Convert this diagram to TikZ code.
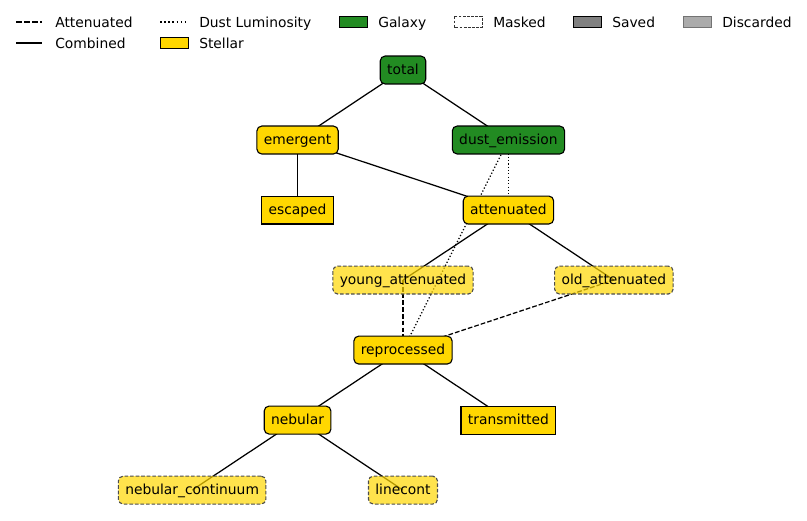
\documentclass[tikz,border=0pt]{standalone}
\usepackage{fontspec}
\setmainfont{DejaVu Sans}
\usetikzlibrary{positioning, backgrounds}
\definecolor{gold}{HTML}{FFD700}
\definecolor{forestgreen}{HTML}{228B22}

\begin{document}
\begin{tikzpicture}[x=0.7227pt, y=-0.7227pt, node distance=50.6pt and 76.2pt, on grid,
    every node/.style={font=\fontsize{10}{12}\selectfont},
    comb/.style={line width=0.9pt},
    att/.style={line width=0.9pt, dash pattern=on 3.4pt off 1.5pt},
    dust/.style={line width=0.9pt, dash pattern=on 0.9pt off 1.5pt},
    lg/.style={anchor=base west, inner sep=0}]
  \tikzstyle{discarded}=[draw, line width=0.8pt, fill=gold, inner xsep=5pt, minimum height=20.2pt,
                         text height=7.6pt, text depth=1.8pt]
  \tikzstyle{saved}=[discarded, rounded corners=3.5pt]
  \tikzstyle{galaxy}=[saved, fill=forestgreen]
  \tikzstyle{masked}=[saved, fill opacity=0.7, text opacity=1, draw=black!70,
                      dash pattern=on 2.6pt off 1.4pt]
  \useasboundingbox (0,0) rectangle (807,521);

  % Legend
  \draw[att, line width=1.1pt, dash pattern=on 4pt off 1.8pt] (16,22) -- (42,22);
  \node[lg] (lgAtt) at (55,27.5) {Attenuated};
  \draw[comb, line width=1.1pt] (16,43) -- (42,43);
  \node[lg] (lgComb) at (55,48.5) {Combined};
  \draw[dust, line width=1.1pt, dash pattern=on 1.1pt off 1.9pt] (160,22) -- (188,22);
  \node[lg] (lgDust) at (199,27.5) {Dust Luminosity};
  \draw[line width=0.7pt, fill=gold] (160,37.5) rectangle (188,48.5);
  \node[lg] (lgStel) at (199,48.5) {Stellar};
  \draw[line width=0.7pt, fill=forestgreen] (339,16.5) rectangle (367,27.5);
  \node[lg] (lgGal) at (378,27.5) {Galaxy};
  \draw[line width=0.7pt, draw=black!80, dash pattern=on 2pt off 1pt] (454,16.5) rectangle (482,27.5);
  \node[lg] (lgMask) at (493,27.5) {Masked};
  \draw[line width=0.7pt, fill=gray] (573,16.5) rectangle (601,27.5);
  \node[lg] (lgSave) at (612,27.5) {Saved};
  \draw[line width=0.7pt, draw=black!55, fill=black!33] (683,16.5) rectangle (711,27.5);
  \node[lg] (lgDisc) at (722,27.5) {Discarded};

  % Nodes
  \node[galaxy] (total) at (403,70) {total};
  \node[saved] (emergent) [below left=of total] {emergent};
  \node[galaxy] (dustem) [below right=of total] {dust\_emission};
  \node[discarded] (escaped) [below=of emergent] {escaped};
  \node[saved] (attenuated) [below=of dustem] {attenuated};
  \node[masked] (youngatt) [below left=of attenuated] {young\_attenuated};
  \node[masked] (oldatt) [below right=of attenuated] {old\_attenuated};
  \node[saved] (reprocessed) [below=of youngatt] {reprocessed};
  \node[saved] (nebular) [below left=of reprocessed] {nebular};
  \node[discarded] (transmitted) [below right=of reprocessed] {transmitted};
  \node[masked] (nebcont) [below left=of nebular] {nebular\_continuum};
  \node[masked] (linecont) [below right=of nebular] {linecont};

  % Edges
  \begin{pgfonlayer}{background}
    \draw[comb] (total.center) -- (emergent.center);
    \draw[comb] (total.center) -- (dustem.center);
    \draw[comb] (emergent.center) -- (escaped.center);
    \draw[comb] (emergent.center) -- (attenuated.center);
    \draw[dust] (dustem.center) -- (attenuated.center);
    \draw[dust] (dustem.center) -- (reprocessed.center);
    \draw[comb] (attenuated.center) -- (youngatt.center);
    \draw[comb] (attenuated.center) -- (oldatt.center);
    \draw[att] (youngatt.center) -- (reprocessed.center);
    \draw[att] (oldatt.center) -- (reprocessed.center);
    \draw[comb] (reprocessed.center) -- (nebular.center);
    \draw[comb] (reprocessed.center) -- (transmitted.center);
    \draw[comb] (nebular.center) -- (nebcont.center);
    \draw[comb] (nebular.center) -- (linecont.center);
  \end{pgfonlayer}
\end{tikzpicture}
\end{document}
